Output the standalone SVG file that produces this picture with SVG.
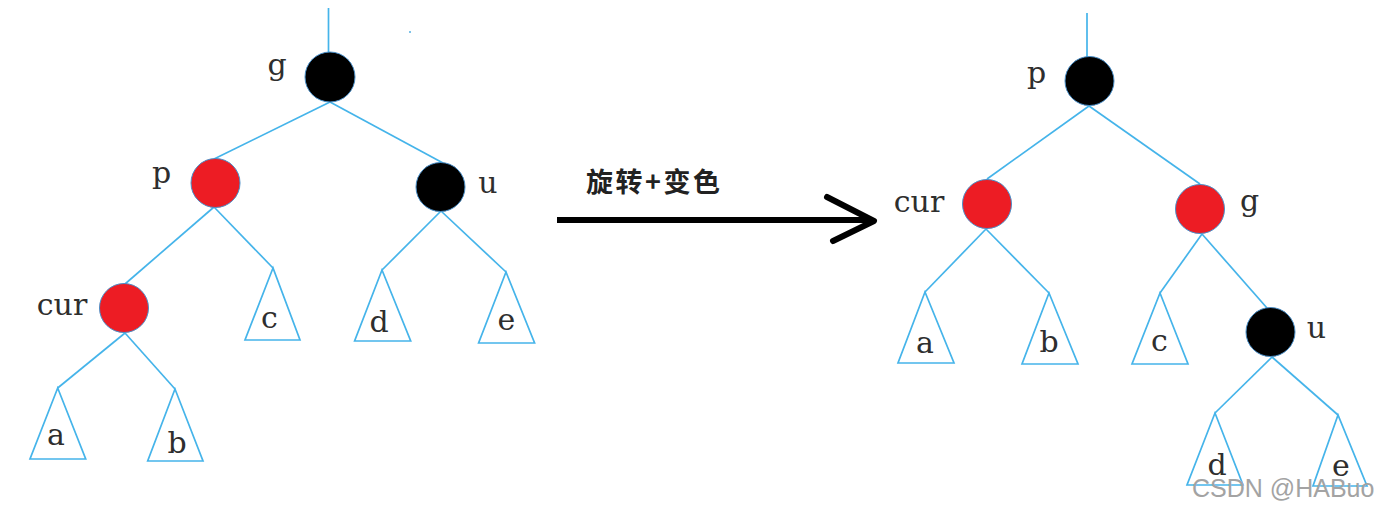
<svg xmlns="http://www.w3.org/2000/svg" width="1374" height="511" viewBox="0 0 1374 511">
<style>
.edge{stroke:#45b4ea;stroke-width:1.7;fill:none}
.tri{stroke:#45b4ea;stroke-width:1.7;fill:#ffffff}
.red{fill:#ed1c24;stroke:#4a8fc8;stroke-width:1}
.blk{fill:#000000;stroke:#4a8fc8;stroke-width:1}
.lbl{font-family:"DejaVu Serif","Liberation Serif",serif;font-size:30px;fill:#2e2e2e}
.mid{text-anchor:middle}
.cap{font-family:"Noto Sans CJK SC","DejaVu Sans",sans-serif;font-size:27px;font-weight:bold;fill:#222;letter-spacing:2.5px}
.wm{font-family:"Liberation Sans",Arial,sans-serif;font-size:25px;fill:#a3a3a3}
</style>
<rect width="1374" height="511" fill="#ffffff"/>
<g id="connectors">
  <line class="edge" x1="328.5" y1="8" x2="328.5" y2="53"/>
  <line class="edge" x1="330" y1="102" x2="214" y2="159"/>
  <line class="edge" x1="330" y1="102" x2="443" y2="163"/>
  <line class="edge" x1="214" y1="207" x2="125" y2="284"/>
  <line class="edge" x1="214" y1="207" x2="273" y2="268"/>
  <line class="edge" x1="441" y1="211" x2="382" y2="270"/>
  <line class="edge" x1="441" y1="211" x2="506" y2="272"/>
  <line class="edge" x1="125" y1="333" x2="57.7" y2="388"/>
  <line class="edge" x1="125" y1="333" x2="175" y2="389"/>
  <line class="edge" x1="1087" y1="13" x2="1087" y2="57"/>
  <line class="edge" x1="1089" y1="106" x2="987" y2="179"/>
  <line class="edge" x1="1089" y1="106" x2="1200" y2="184"/>
  <line class="edge" x1="986" y1="229" x2="925" y2="292"/>
  <line class="edge" x1="986" y1="229" x2="1049" y2="293"/>
  <line class="edge" x1="1202" y1="234" x2="1160" y2="293"/>
  <line class="edge" x1="1202" y1="234" x2="1267" y2="308"/>
  <line class="edge" x1="1272" y1="357" x2="1215" y2="413"/>
  <line class="edge" x1="1272" y1="357" x2="1338" y2="415"/>
  <rect x="409" y="31" width="2" height="2" fill="#7fc3e8"/>
</g>
<g id="arrow">
  <line x1="557" y1="220" x2="872" y2="220" stroke="#000" stroke-width="6"/>
  <polyline points="827,197 874,221 833,241" fill="none" stroke="#000" stroke-width="6" stroke-linejoin="round" stroke-linecap="round"/>
  <text class="cap" x="586" y="192">旋转+变色</text>
</g>
<g id="L-g"><circle class="blk" cx="330" cy="77" r="25"/><text class="lbl mid" x="277" y="75" font-size="28">g</text></g>
<g id="L-p"><circle class="red" cx="215.5" cy="183" r="24.5"/><text class="lbl mid" x="161.5" y="183">p</text></g>
<g id="L-u"><circle class="blk" cx="440.5" cy="187" r="24.5"/><text class="lbl mid" x="488" y="193">u</text></g>
<g id="L-cur"><circle class="red" cx="124" cy="308" r="24.5"/><text class="lbl mid" x="62" y="315">cur</text></g>
<g id="L-a"><polygon class="tri" points="57.7,388 30,459 85.7,459"/><text class="lbl mid" x="56" y="445">a</text></g>
<g id="L-b"><polygon class="tri" points="175,389 147.7,461 203,461"/><text class="lbl mid" x="177" y="453">b</text></g>
<g id="L-c"><polygon class="tri" points="273,268 245,340 300,340"/><text class="lbl mid" x="269.5" y="328">c</text></g>
<g id="L-d"><polygon class="tri" points="382,270 354.6,341 410.7,341"/><text class="lbl mid" x="379" y="332">d</text></g>
<g id="L-e"><polygon class="tri" points="506,272 478.6,343 534.6,343"/><text class="lbl mid" x="506.5" y="330">e</text></g>
<g id="R-p"><circle class="blk" cx="1089.5" cy="81" r="24.5"/><text class="lbl mid" x="1036.5" y="83">p</text></g>
<g id="R-cur"><circle class="red" cx="987" cy="204" r="24.5"/><text class="lbl mid" x="919" y="212">cur</text></g>
<g id="R-g"><circle class="red" cx="1200" cy="209" r="24.5"/><text class="lbl mid" x="1249.5" y="211" font-size="28">g</text></g>
<g id="R-u"><circle class="blk" cx="1270.5" cy="332" r="24.5"/><text class="lbl mid" x="1316.5" y="338">u</text></g>
<g id="R-a"><polygon class="tri" points="925,292 898,363 954,363"/><text class="lbl mid" x="925" y="353">a</text></g>
<g id="R-b"><polygon class="tri" points="1049,293 1022,364 1078,364"/><text class="lbl mid" x="1049" y="352">b</text></g>
<g id="R-c"><polygon class="tri" points="1160,293 1132,364 1188,364"/><text class="lbl mid" x="1159.5" y="351">c</text></g>
<g id="R-d"><polygon class="tri" points="1215,413 1187,485 1243,485"/><text class="lbl mid" x="1217" y="475">d</text></g>
<g id="R-e"><polygon class="tri" points="1338,415 1313,486 1367,486"/><text class="lbl mid" x="1341" y="476">e</text></g>
<g id="watermark"><text class="wm" x="1192" y="497">CSDN @HABuo</text></g>
</svg>
